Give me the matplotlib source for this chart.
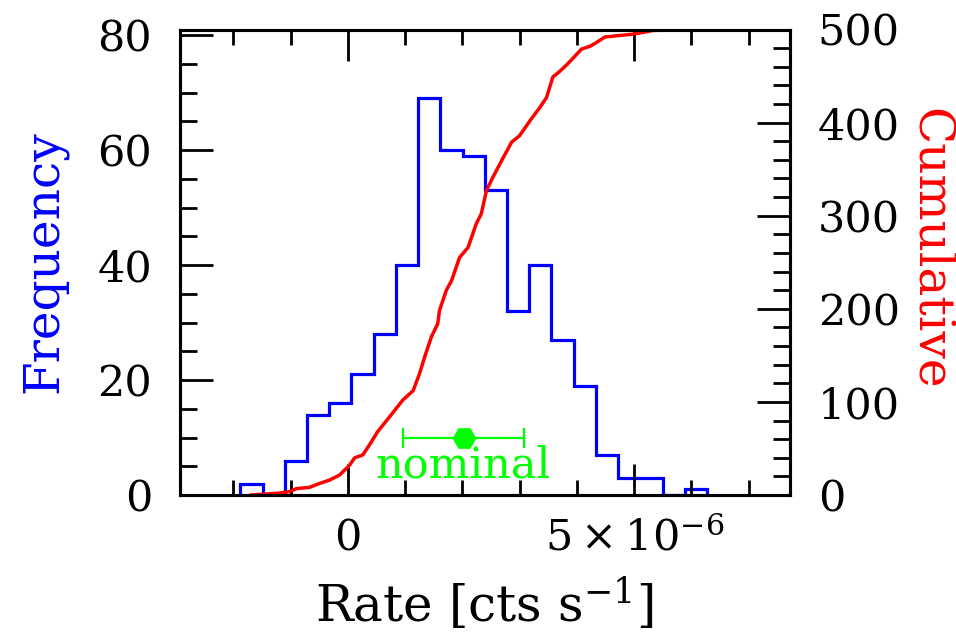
import numpy as np
import matplotlib
matplotlib.use("Agg")
import matplotlib.pyplot as plt
from matplotlib.ticker import FixedLocator, FixedFormatter, MultipleLocator

plt.rcParams["font.family"] = "DejaVu Serif"
plt.rcParams["mathtext.fontset"] = "dejavuserif"

# --- histogram of simulated rates ---
bin_start = -1.876e-6
bin_width = 0.388e-6
counts = [2, 0, 6, 14, 16, 21, 28, 40, 69, 60, 59,
          53, 32, 40, 27, 19, 7, 3, 3, 0, 1]

# --- cumulative number of realisations vs rate ---
cum_rate = [-1.69, -1.20, -1.02, -0.90, -0.67, -0.49, -0.32, -0.145, 0.03, 0.12,
            0.26, 0.38, 0.52, 0.73, 0.96, 1.14, 1.25, 1.34, 1.46, 1.57,
            1.60, 1.72, 1.81, 1.95, 2.10, 2.24, 2.33, 2.42, 2.53, 2.71,
            2.86, 3.00, 3.18, 3.35, 3.47, 3.58, 3.70, 3.82, 3.93, 4.08,
            4.23, 4.34, 4.49, 4.98, 5.33, 6.00]
cum_count = [0, 2, 3.6, 6.8, 8.2, 12.5, 16, 21.4, 32, 40,
             43, 54, 68, 84, 102, 112, 130, 148, 170, 184,
             198, 220, 230, 255, 266, 291, 302, 327, 341, 362,
             379, 386, 402, 416, 427, 449, 455, 462, 469, 479,
             482, 486, 492, 495, 499, 500]

# --- nominal value with its uncertainty ---
nominal_rate = 2.02e-6
nominal_err = 1.05e-6
nominal_y = 10

edges = bin_start + bin_width * np.arange(len(counts) + 1)
cum_rate = np.array(cum_rate) * 1e-6

fig = plt.figure(figsize=(9.56, 6.32), dpi=100)
ax = fig.add_axes([180 / 956, 137 / 632, 610 / 956, 465.5 / 632])
ax2 = ax.twinx()

ax.stairs(counts, edges, color="#0000ff", lw=2.3, baseline=0)
ax2.plot(cum_rate, cum_count, color="#ff0000", lw=2.5)

ax.errorbar(nominal_rate, nominal_y, xerr=nominal_err, fmt="H", color="#00ff00",
            ms=16, lw=1.6, capsize=7, capthick=1.6)
ax.text(nominal_rate, 3.1, "nominal", color="#00ff00", fontsize=31,
        ha="center", va="baseline")

ax.set_xlim(-2.93e-6, 7.72e-6)
ax.set_ylim(0, 81)
ax2.set_ylim(0, 500)

ax.xaxis.set_major_locator(FixedLocator([0, 5e-6]))
ax.xaxis.set_major_formatter(FixedFormatter(["0", r"$5\times10^{-6}$"]))
ax.xaxis.set_minor_locator(MultipleLocator(1e-6))
ax.yaxis.set_major_locator(MultipleLocator(20))
ax.yaxis.set_minor_locator(MultipleLocator(5))
ax2.yaxis.set_major_locator(MultipleLocator(100))
ax2.yaxis.set_minor_locator(MultipleLocator(20))

ax.tick_params(axis="x", which="both", direction="in", top=True, bottom=True,
               labelsize=31, pad=16, width=2)
ax.tick_params(axis="x", which="major", length=22)
ax.tick_params(axis="x", which="minor", length=11)
ax.tick_params(axis="y", which="both", direction="in", left=True, right=False,
               labelsize=31, pad=20, width=2)
ax.tick_params(axis="y", which="major", length=24)
ax.tick_params(axis="y", which="minor", length=12)
ax2.tick_params(axis="y", which="both", direction="in", right=True, left=False,
                labelsize=31, pad=20, width=2)
ax2.tick_params(axis="y", which="major", length=24)
ax2.tick_params(axis="y", which="minor", length=12)

for a in (ax, ax2):
    for s in a.spines.values():
        s.set_linewidth(2.2)

fig.text(44 / 956, 1 - 262 / 632, "Frequency", color="#0000ff", fontsize=35,
         rotation=90, ha="center", va="center")
fig.text(930 / 956, 1 - 249 / 632, "Cumulative", color="#ff0000", fontsize=35,
         rotation=-90, ha="center", va="center")
fig.text(484 / 956, 1 - 604 / 632, r"Rate [cts s$^{-1}$]", fontsize=36,
         ha="center", va="center")

fig.savefig("out.png", dpi=100)
